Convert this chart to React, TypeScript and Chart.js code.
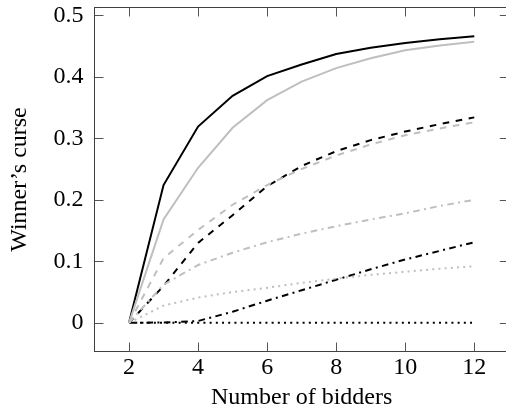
import React, { useEffect, useRef } from "react";
import { Chart, registerables } from "chart.js";

Chart.register(...registerables);

// ---- data ----
const bidders = [2, 3, 4, 5, 6, 7, 8, 9, 10, 11, 12];
const xTicks = [2, 4, 6, 8, 10, 12];
const yTicks = [0, 0.1, 0.2, 0.3, 0.4, 0.5];

const blackSolid = [0, 0.224, 0.319, 0.369, 0.401, 0.42, 0.437, 0.447, 0.455, 0.461, 0.466];
const graySolid = [0, 0.168, 0.252, 0.317, 0.362, 0.392, 0.414, 0.43, 0.443, 0.451, 0.457];
const blackDashed = [0, 0.06, 0.13, 0.175, 0.222, 0.255, 0.279, 0.297, 0.311, 0.323, 0.334];
const grayDashed = [0, 0.105, 0.151, 0.192, 0.224, 0.25, 0.272, 0.29, 0.305, 0.316, 0.326];
const grayDashDot = [0, 0.062, 0.094, 0.114, 0.131, 0.145, 0.157, 0.168, 0.178, 0.19, 0.2];
const grayDotted = [0, 0.028, 0.041, 0.05, 0.057, 0.065, 0.072, 0.078, 0.083, 0.088, 0.092];
const blackDashDot = [0, 0.0005, 0.003, 0.018, 0.036, 0.053, 0.07, 0.087, 0.103, 0.117, 0.131];
const blackDotted = [0, 0, 0, 0, 0, 0, 0, 0, 0, 0, 0];

const xLabel = "Number of bidders";
const yLabel = "Winner\u2019s curse";

const GRAY = "#bfbfbf";
const BLACK = "#000000";
const FONT = "'Liberation Serif', 'Times New Roman', serif";

const DASHED = [6.6, 6.6];
const DOTTED = [2, 4.2];
const DASHDOT = [6.6, 4.4, 2, 4.4];

export default function App() {
  const ref = useRef<HTMLCanvasElement>(null);

  useEffect(() => {
    if (!ref.current) return;
    const pts = (vals: number[]) => bidders.map((x, i) => ({ x, y: vals[i] }));
    const ds = (vals: number[], color: string, dash: number[]) => ({
      data: pts(vals),
      borderColor: color,
      backgroundColor: color,
      borderWidth: 2,
      borderDash: dash,
      borderCapStyle: "butt" as const,
      pointRadius: 0,
      tension: 0,
      fill: false,
    });

    const framePlugin = {
      id: "frame",
      afterDraw(chart: any) {
        const { ctx, chartArea: a, scales } = chart;
        ctx.save();
        const TL = 9;
        ctx.strokeStyle = "#555";
        ctx.lineWidth = 1;
        ctx.beginPath();
        xTicks.forEach((v) => {
          const px = Math.round(scales.x.getPixelForValue(v)) + 0.5;
          ctx.moveTo(px, a.bottom);
          ctx.lineTo(px, a.bottom - TL);
          ctx.moveTo(px, a.top);
          ctx.lineTo(px, a.top + TL);
        });
        yTicks.forEach((v) => {
          const py = Math.round(scales.y.getPixelForValue(v)) + 0.5;
          ctx.moveTo(a.left, py);
          ctx.lineTo(a.left + TL, py);
          ctx.moveTo(a.right, py);
          ctx.lineTo(a.right - TL, py);
        });
        ctx.stroke();
        ctx.strokeStyle = "#404040";
        ctx.strokeRect(a.left, a.top, a.right - a.left, a.bottom - a.top);
        ctx.restore();
      },
    };

    const chart = new Chart(ref.current, {
      type: "line",
      data: {
        datasets: [
          ds(graySolid, GRAY, []),
          ds(grayDashed, GRAY, DASHED),
          ds(grayDashDot, GRAY, DASHDOT),
          ds(grayDotted, GRAY, DOTTED),
          ds(blackSolid, BLACK, []),
          ds(blackDashed, BLACK, DASHED),
          ds(blackDashDot, BLACK, DASHDOT),
          ds(blackDotted, BLACK, DOTTED),
        ],
      },
      options: {
        animation: false,
        responsive: false,
        devicePixelRatio: 1,
        layout: { padding: { left: 0, top: 7.5, right: 11.2, bottom: 0 } },
        plugins: { legend: { display: false }, tooltip: { enabled: false } },
        scales: {
          x: {
            type: "linear",
            min: 1,
            max: 13,
            grid: { display: false, drawTicks: false, tickLength: 0 },
            border: { display: false },
            ticks: {
              color: "#000",
              padding: 2,
              font: { family: FONT, size: 24, lineHeight: 1.2 },
              callback: (v: any) => String(v),
            },
            afterBuildTicks: (s: any) => {
              s.ticks = xTicks.map((v) => ({ value: v }));
            },
            afterFit: (s: any) => {
              s.height = 59.5;
              s.paddingLeft = 0;
              s.paddingRight = 0;
            },
            title: {
              display: true,
              text: xLabel,
              color: "#000",
              font: { family: FONT, size: 24, lineHeight: 1 },
              padding: { top: 0, bottom: 1 },
            },
          },
          y: {
            type: "linear",
            min: -0.0466,
            max: 0.5126,
            grid: { display: false, drawTicks: false, tickLength: 0 },
            border: { display: false },
            ticks: {
              color: "#000",
              padding: 11,
              font: { family: FONT, size: 24, lineHeight: 1.2 },
              callback: (v: any) => String(Math.round(Number(v) * 10) / 10),
            },
            afterBuildTicks: (s: any) => {
              s.ticks = yTicks.map((v) => ({ value: v }));
            },
            afterFit: (s: any) => {
              s.width = 94.5;
              s.paddingTop = 0;
              s.paddingBottom = 0;
            },
            title: {
              display: true,
              text: yLabel,
              color: "#000",
              font: { family: FONT, size: 24, lineHeight: 1 },
              padding: { top: 8, bottom: 0 },
            },
          },
        },
      },
      plugins: [framePlugin],
    });
    return () => chart.destroy();
  }, []);

  return (
    <div
      style={{
        position: "fixed",
        left: 0,
        top: 0,
        width: 506,
        height: 411,
        overflow: "hidden",
        background: "#fff",
      }}
    >
      <canvas ref={ref} width={520} height={411} style={{ display: "block", width: 520, height: 411 }} />
    </div>
  );
}
